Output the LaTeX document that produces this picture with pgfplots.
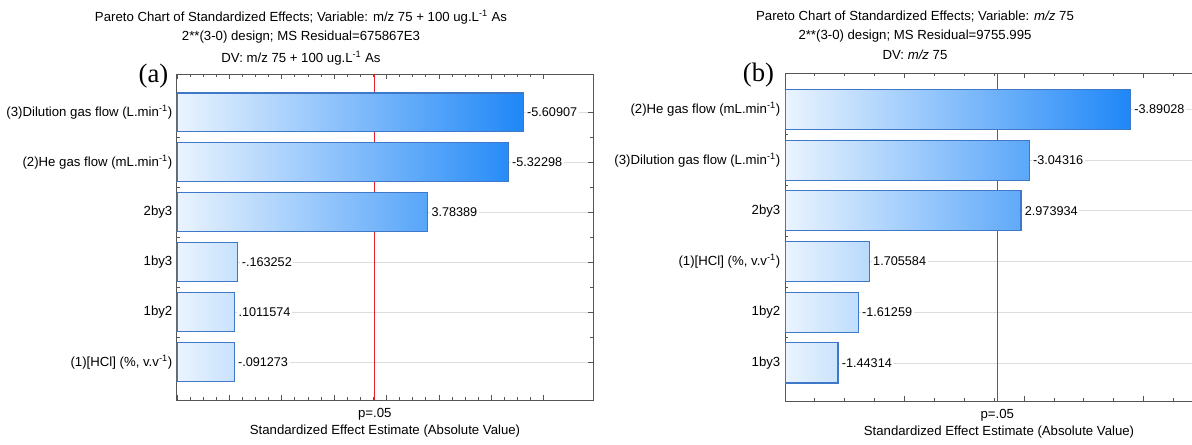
\documentclass[border=0pt]{standalone}
\usepackage{pgfplots}
\pgfplotsset{compat=1.18}
\usepackage{fontspec}
\setmainfont{Liberation Sans}
\newfontfamily\panelfont{Liberation Serif}

\definecolor{barLight}{HTML}{EAF4FE}
\definecolor{barDark}{HTML}{1F87F7}
\definecolor{barEdge}{HTML}{3F78C8}
\definecolor{frameGray}{HTML}{555555}
\definecolor{gridGray}{HTML}{DDDDDD}
\definecolor{pRed}{HTML}{E8202A}

\newcommand{\lbl}{\fontsize{9.9}{11.5}\selectfont}
\newcommand{\val}{\fontsize{9.5}{11}\selectfont}

\pgfplotsset{
  pareto/.style={
    scale only axis,
    y dir=reverse,
    xmin=0,
    ytick={1,...,6},
    minor y tick num=1,
    minor x tick num=3,
    xticklabels={},
    tick align=inside,
    major tick length=3.5pt,
    minor tick length=2pt,
    tick style={draw=frameGray, line width=0.6pt},
    axis line style={draw=frameGray, line width=0.75pt},
    ymajorgrids,
    major grid style={draw=gridGray, line width=0.6pt},
    yticklabel style={font=\lbl},
    extra x tick labels={p=.05},
    extra x tick style={
      grid=major,
      major grid style={draw=pRed, line width=0.75pt},
      major tick length=0pt,
      tick label style={font=\lbl, yshift=-3pt},
    },
    xlabel={Standardized Effect Estimate (Absolute Value)},
    xlabel style={font=\lbl, at={(axis description cs:0.5,0)},
                  anchor=north, yshift=-15.5pt},
  },
  % bars share one gradient that runs from the left edge of the axis
  % to the end of the longest bar (#1 = that end, as a fraction of the width)
  effbar/.style={xbar, bar shift=0pt, draw=barEdge, line width=0.8pt,
    path picture={\shade[path picture={}, draw=none,
                         left color=barLight, right color=barDark]
                  (rel axis cs:0,0) rectangle (rel axis cs:#1,1);}},
  % the signed effect printed at the end of each bar
  effval/.style={draw=none, mark=none, nodes near coords,
                 point meta=explicit symbolic,
                 every node near coord/.append style={font=\val, fill=white,
                   anchor=west, inner sep=1.2pt, xshift=1.5pt}},
}

\begin{document}
\begin{tikzpicture}

% headings, placed on a 1 unit = 0.75pt grid measured from the top-left corner
\begin{scope}[x=0.75pt, y=-0.75pt]
\node[font=\lbl] at (301,17)
  {Pareto Chart of Standardized Effects; Variable: m/z 75 + 100 ug.L\textsuperscript{-1} As};
\node[font=\lbl] at (301,37) {2**(3-0) design; MS Residual=675867E3};
\node[font=\lbl] at (301,58) {DV: m/z 75 + 100 ug.L\textsuperscript{-1} As};
\node[font=\panelfont\fontsize{20}{22}\selectfont] at (153.5,76) {(a)};

\node[font=\lbl] at (915,17)
  {Pareto Chart of Standardized Effects; Variable: \textit{m/z} 75};
\node[font=\lbl] at (915,36) {2**(3-0) design; MS Residual=9755.995};
\node[font=\lbl] at (915,55) {DV: \textit{m/z} 75};
\node[font=\panelfont\fontsize{20}{22}\selectfont] at (758.5,75) {(b)};
\end{scope}

% ---------------- panel (a) ----------------
\begin{axis}[
  pareto,
  at={(132.75pt,-300pt)}, anchor=south west,
  width=312pt, height=244.5pt,
  xmax=7.94, ymin=0.23, ymax=6.76,
  xtick={0,...,7},
  bar width=0.78,
  % bars start at the left edge of the axis (effect = -1)
  x filter/.expression={abs(x)+1},
  extra x ticks={3.776},
  yticklabels={
    {(3)Dilution gas flow (L.min\textsuperscript{-1})},
    {(2)He gas flow (mL.min\textsuperscript{-1})},
    2by3, 1by3, 1by2,
    {(1)[HCl] (\%, v.v\textsuperscript{-1})}},
]
\addplot[effbar=0.8324] coordinates {
  (-5.60907,1) (-5.32298,2) (3.78389,3)
  (-0.163252,4) (0.1011574,5) (-0.091273,6)
};
\addplot[effval] coordinates {
  (-5.60907,1) [-5.60907]
  (-5.32298,2) [-5.32298]
  (3.78389,3) [3.78389]
  (-0.163252,4) [-.163252]
  (0.1011574,5) [.1011574]
  (-0.091273,6) [-.091273]
};
\end{axis}

% ---------------- panel (b) ----------------
\begin{axis}[
  pareto,
  at={(588.75pt,-300.75pt)}, anchor=south west,
  width=321pt, height=246pt,
  xmax=3.58, ymin=0.28, ymax=6.75,
  xtick={0,...,4},
  bar width=0.79,
  % bars start at the left edge of the axis (effect = 1)
  x filter/.expression={abs(x)-1},
  extra x ticks={1.776},
  yticklabels={
    {(2)He gas flow (mL.min\textsuperscript{-1})},
    {(3)Dilution gas flow (L.min\textsuperscript{-1})},
    2by3,
    {(1)[HCl] (\%, v.v\textsuperscript{-1})},
    1by2, 1by3},
]
\addplot[effbar=0.8073] coordinates {
  (-3.89028,1) (-3.04316,2) (2.973934,3)
  (1.705584,4) (-1.61259,5) (-1.44314,6)
};
\addplot[effval] coordinates {
  (-3.89028,1) [-3.89028]
  (-3.04316,2) [-3.04316]
  (2.973934,3) [2.973934]
  (1.705584,4) [1.705584]
  (-1.61259,5) [-1.61259]
  (-1.44314,6) [-1.44314]
};
\end{axis}

% a last, invisible white shading so that the picture ends on a clean graphics state
\shade[left color=white, right color=white] (0pt,0pt) rectangle (0.2pt,-0.2pt);

\pgfresetboundingbox
\path[use as bounding box] (0pt,0pt) rectangle (894pt,-333.75pt);
\end{tikzpicture}
\end{document}
